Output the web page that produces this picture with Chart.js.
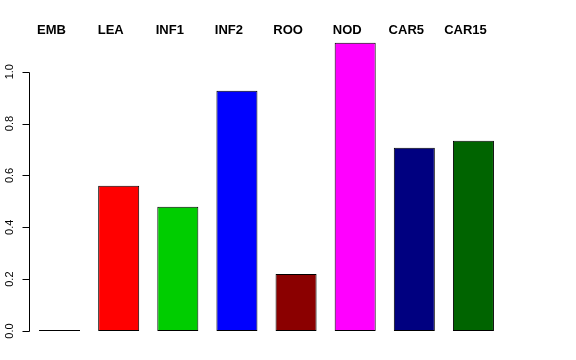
<!DOCTYPE html>
<html>
<head>
<meta charset="utf-8">
<script src="https://cdn.jsdelivr.net/npm/chart.js@4/dist/chart.umd.min.js"></script>
<style>
html,body{margin:0;padding:0;background:#fff;}
canvas{display:block;}
</style>
</head>
<body>
<canvas id="c" width="576" height="360"></canvas>
<script>
const categories = ["EMB","LEA","INF1","INF2","ROO","NOD","CAR5","CAR15"];
const values = [0, 0.560, 0.479, 0.927, 0.220, 1.112, 0.707, 0.734];
const barColors = ["#000000","#FF0000","#00CD00","#0000FF","#8B0000","#FF00FF","#000080","#006400"];
const yTicks = [0, 0.2, 0.4, 0.6, 0.8, 1.0];
const yTickLabels = ["0.0","0.2","0.4","0.6","0.8","1.0"];

const rAxis = {
  id: 'rAxis',
  afterDraw(chart) {
    const ctx = chart.ctx;
    const ys = chart.scales.y;
    const x0 = 29.5;
    ctx.save();
    ctx.strokeStyle = '#000';
    ctx.lineWidth = 1;
    const top = ys.getPixelForValue(yTicks[yTicks.length-1]);
    const bot = ys.getPixelForValue(yTicks[0]);
    ctx.beginPath();
    ctx.moveTo(x0, Math.round(top)+0.5);
    ctx.lineTo(x0, Math.round(bot)+0.5);
    yTicks.forEach(v => {
      const p = Math.round(ys.getPixelForValue(v)) + 0.5;
      ctx.moveTo(x0, p);
      ctx.lineTo(x0 - 7, p);
    });
    ctx.stroke();
    ctx.fillStyle = '#000';
    ctx.font = '11px "Liberation Sans", Arial, sans-serif';
    ctx.textAlign = 'center';
    ctx.textBaseline = 'middle';
    yTicks.forEach((v, i) => {
      const p = ys.getPixelForValue(v);
      ctx.save();
      ctx.translate(10, p);
      ctx.rotate(-Math.PI/2);
      ctx.fillText(yTickLabels[i], 0, 0);
      ctx.restore();
    });
    ctx.restore();
  }
};

new Chart(document.getElementById('c'), {
  type: 'bar',
  data: {
    labels: categories,
    datasets: [{
      data: values,
      backgroundColor: barColors,
      borderColor: '#000',
      borderWidth: 1,
      borderSkipped: false,
      minBarLength: 1,
      categoryPercentage: 1.0,
      barPercentage: 0.694
    }]
  },
  options: {
    responsive: false,
    animation: false,
    devicePixelRatio: 1,
    layout: { padding: { left: 0, right: 73, top: 0, bottom: 29 } },
    plugins: { legend: { display: false }, tooltip: { enabled: false } },
    scales: {
      x: {
        position: 'top',
        grid: { display: false },
        border: { display: false },
        ticks: {
          color: '#000',
          font: { family: '"Liberation Sans", Arial, sans-serif', size: 13, weight: 'bold' },
          labelOffset: -8,
          padding: -8,
          maxRotation: 0,
          autoSkip: false
        },
        afterFit(s) { s.height = 38; }
      },
      y: {
        min: 0,
        max: 1.13,
        grid: { display: false },
        border: { display: false },
        ticks: { display: false, stepSize: 0.2 },
        afterFit(s) { s.width = 30; }
      }
    }
  },
  plugins: [rAxis]
});
</script>
</body>
</html>
